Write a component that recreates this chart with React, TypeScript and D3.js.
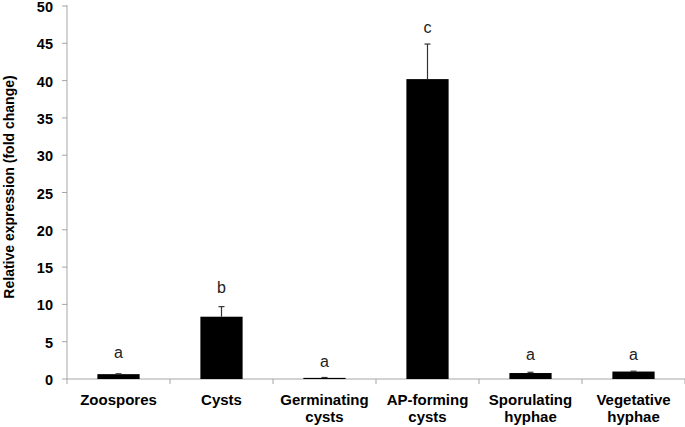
import React from "react";
import * as d3 from "d3";

const categories = [
  ["Zoospores"],
  ["Cysts"],
  ["Germinating", "cysts"],
  ["AP-forming", "cysts"],
  ["Sporulating", "hyphae"],
  ["Vegetative", "hyphae"],
];
const means = [0.65, 8.35, 0.15, 40.2, 0.8, 1.0];
const errors = [0.05, 1.35, 0.05, 4.7, 0.1, 0.05];
const letters = ["a", "b", "a", "c", "a", "a"];
const letterValues = [2.8, 11.5, 1.6, 46.4, 2.55, 2.55];
const yTicks = [0, 5, 10, 15, 20, 25, 30, 35, 40, 45, 50];

export default function App() {
  const W = 685, H = 427;
  const left = 67, right = 685, top = 6, bottom = 379;
  const x = d3.scaleBand<number>().domain(d3.range(categories.length)).range([left, right]).paddingInner(0.59).paddingOuter(0.295);
  const band = (right - left) / categories.length;
  const y = d3.scaleLinear().domain([0, 50]).range([bottom, top]);
  const font = "'Liberation Sans', Arial, sans-serif";
  return (
    <svg width={W} height={H} style={{ position: "absolute", left: 0, top: 0 }} fontFamily={font}>
      <rect width={W} height={H} fill="#fff" />
      {/* y axis */}
      <line x1={left} x2={left} y1={top - 1} y2={bottom} stroke="#a6a6a6" strokeWidth={1} />
      {yTicks.map((t) => (
        <g key={t}>
          <line x1={left - 5} x2={left} y1={y(t)} y2={y(t)} stroke="#a6a6a6" />
          <text x={53} y={y(t) + 6} textAnchor="end" fontSize={14.5} fontWeight="bold" fill="#000">{t}</text>
        </g>
      ))}
      {/* x axis */}
      <line x1={left} x2={right} y1={bottom} y2={bottom} stroke="#a6a6a6" />
      {d3.range(categories.length + 1).map((i) => (
        <line key={i} x1={left + i * band} x2={left + i * band} y1={bottom} y2={bottom + 5} stroke="#a6a6a6" />
      ))}
      {means.map((m, i) => {
        const cx = (x(i) as number) + x.bandwidth() / 2;
        return (
          <g key={i}>
            <rect x={x(i)} y={y(m)} width={x.bandwidth()} height={bottom - y(m)} fill="#000" />
            <line x1={cx} x2={cx} y1={y(m)} y2={y(m + errors[i])} stroke="#333" strokeWidth={1.2} />
            <line x1={cx - 3} x2={cx + 3} y1={y(m + errors[i])} y2={y(m + errors[i])} stroke="#333" strokeWidth={1.2} />
            <text x={cx} y={y(letterValues[i])} textAnchor="middle" fontSize={16} fill="#222">{letters[i]}</text>
            {categories[i].map((line, j) => (
              <text key={j} x={left + (i + 0.5) * band} y={405 + j * 17} textAnchor="middle" fontSize={15} fontWeight="bold" fill="#000">{line}</text>
            ))}
          </g>
        );
      })}
      <text transform={`translate(14,187) rotate(-90)`} textAnchor="middle" fontSize={14} fontWeight="bold" fill="#000">Relative expression (fold change)</text>
    </svg>
  );
}
